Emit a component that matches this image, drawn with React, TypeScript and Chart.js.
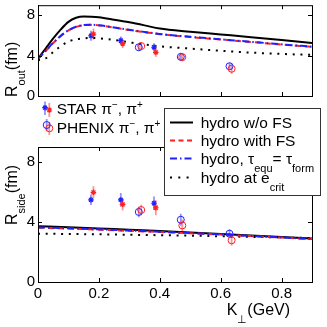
import React, { useEffect, useRef } from "react";
import { Chart, registerables } from "chart.js";
Chart.register(...registerables);

const FONT = "'Liberation Sans', Arial, Helvetica, sans-serif";

// ---------- tick labels ----------
const xTicks = [0, 0.2, 0.4, 0.6, 0.8];
const yTicks = [0, 4, 8];

// ---------- hydro curves: R_out ----------
const kOut = [0, 0.025, 0.05, 0.075, 0.1, 0.125, 0.15, 0.175, 0.2, 0.25, 0.3, 0.35, 0.4, 0.5, 0.6, 0.7, 0.8, 0.9];
const routNoFS = [3.7, 4.7, 5.7, 6.6, 7.35, 7.75, 7.88, 7.86, 7.8, 7.56, 7.3, 7.0, 6.68, 6.37, 6.1, 5.83, 5.55, 5.25];
const routWithFS = [3.7, 4.45, 5.25, 5.95, 6.5, 6.85, 7.02, 7.05, 7.0, 6.78, 6.54, 6.33, 6.13, 5.85, 5.6, 5.35, 5.1, 4.87];
const routTauEq = [3.7, 4.47, 5.27, 5.97, 6.52, 6.87, 7.04, 7.06, 7.01, 6.8, 6.56, 6.35, 6.15, 5.87, 5.62, 5.37, 5.12, 4.89];
const routCrit = [3.55, 3.72, 4.35, 4.95, 5.4, 5.62, 5.72, 5.75, 5.72, 5.55, 5.32, 5.1, 4.92, 4.7, 4.48, 4.3, 4.17, 4.07];

// ---------- hydro curves: R_side ----------
const kSide = [0, 0.1, 0.2, 0.3, 0.4, 0.5, 0.6, 0.7, 0.8, 0.9];
const rsideNoFS = [3.72, 3.65, 3.57, 3.48, 3.4, 3.3, 3.2, 3.1, 3.0, 2.9];
const rsideWithFS = [3.62, 3.56, 3.49, 3.41, 3.33, 3.25, 3.16, 3.06, 2.96, 2.86];
const rsideTauEq = [3.64, 3.58, 3.51, 3.43, 3.35, 3.26, 3.17, 3.07, 2.97, 2.87];
const rsideCrit = [3.22, 3.2, 3.18, 3.15, 3.12, 3.09, 3.05, 3.01, 2.97, 2.93];

// ---------- data: STAR ----------
const starMinusK = [0.174, 0.272, 0.381];
const starPlusK = [0.182, 0.278, 0.387];
const starMinusRout = [5.97, 5.5, 4.83];
const starMinusRoutErr = [0.5, 0.4, 0.4];
const starPlusRout = [6.13, 5.2, 4.33];
const starPlusRoutErr = [0.55, 0.45, 0.45];
const starMinusRside = [5.48, 5.48, 5.25];
const starMinusRsideErr = [0.35, 0.45, 0.45];
const starPlusRside = [5.98, 5.17, 4.95];
const starPlusRsideErr = [0.4, 0.4, 0.5];

// ---------- data: PHENIX ----------
const phenixMinusK = [0.331, 0.469, 0.629];
const phenixPlusK = [0.339, 0.474, 0.636];
const phenixMinusRout = [4.83, 3.88, 2.95];
const phenixMinusRoutErr = [0.35, 0.4, 0.35];
const phenixPlusRout = [4.95, 3.85, 2.7];
const phenixPlusRoutErr = [0.35, 0.4, 0.5];
const phenixMinusRside = [4.67, 4.15, 3.22];
const phenixMinusRsideErr = [0.35, 0.4, 0.3];
const phenixPlusRside = [4.8, 3.77, 2.78];
const phenixPlusRsideErr = [0.35, 0.4, 0.35];

const BLUE = "#2020ff";
const RED = "#ff2020";
const BLUE_ERR = "rgba(120,120,255,0.8)";
const RED_ERR = "rgba(255,120,120,0.8)";

type Part = [string, "n" | "sub" | "sup"];

function drawRich(ctx: CanvasRenderingContext2D, x: number, y: number, parts: Part[], size: number, small: number, subDy: number, supDy: number) {
  let cx = x;
  ctx.textBaseline = "alphabetic";
  ctx.textAlign = "left";
  for (const [t, k] of parts) {
    const fs = k === "n" ? size : small;
    ctx.font = `${fs}px ${FONT}`;
    const dy = k === "sub" ? subDy : k === "sup" ? -supDy : 0;
    ctx.fillText(t, cx, y + dy);
    cx += ctx.measureText(t).width;
  }
  return cx;
}

function drawStar(ctx: CanvasRenderingContext2D, x: number, y: number, r: number, color: string) {
  ctx.save();
  ctx.strokeStyle = color;
  ctx.lineWidth = 1.2;
  ctx.beginPath();
  const d = r * 0.7071;
  ctx.moveTo(x - r, y); ctx.lineTo(x + r, y);
  ctx.moveTo(x, y - r); ctx.lineTo(x, y + r);
  ctx.moveTo(x - d, y - d); ctx.lineTo(x + d, y + d);
  ctx.moveTo(x - d, y + d); ctx.lineTo(x + d, y - d);
  ctx.stroke();
  ctx.restore();
}

function drawCircle(ctx: CanvasRenderingContext2D, x: number, y: number, r: number, color: string) {
  ctx.save();
  ctx.strokeStyle = color;
  ctx.lineWidth = 1;
  ctx.beginPath();
  ctx.arc(x, y, r, 0, Math.PI * 2);
  ctx.stroke();
  ctx.restore();
}

function vbar(ctx: CanvasRenderingContext2D, x: number, y1: number, y2: number, color: string) {
  ctx.save();
  ctx.strokeStyle = color;
  ctx.lineWidth = 1.8;
  ctx.beginPath();
  ctx.moveTo(x, y1);
  ctx.lineTo(x, y2);
  ctx.stroke();
  ctx.restore();
}

const errorBars = {
  id: "errorBars",
  beforeDatasetsDraw(chart: any) {
    const { ctx, scales } = chart;
    chart.data.datasets.forEach((ds: any) => {
      if (!ds.errors) return;
      ds.data.forEach((p: any, i: number) => {
        const x = scales.x.getPixelForValue(p.x);
        const y1 = scales.y.getPixelForValue(p.y - ds.errors[i]);
        const y2 = scales.y.getPixelForValue(p.y + ds.errors[i]);
        vbar(ctx, x, y1, y2, ds.errColor);
      });
    });
  },
};

const frame = {
  id: "frame",
  afterDatasetsDraw(chart: any) {
    const { ctx, chartArea: a, scales } = chart;
    ctx.save();
    ctx.strokeStyle = "#000";
    ctx.lineWidth = 1;
    ctx.strokeRect(a.left + 0.5, a.top + 0.5, a.right - a.left, a.bottom - a.top);
    ctx.beginPath();
    const tl = 4;
    xTicks.forEach((v) => {
      const px = Math.round(scales.x.getPixelForValue(v)) + 0.5;
      ctx.moveTo(px, a.bottom); ctx.lineTo(px, a.bottom - tl);
      ctx.moveTo(px, a.top); ctx.lineTo(px, a.top + tl);
    });
    yTicks.forEach((v) => {
      const py = Math.round(scales.y.getPixelForValue(v)) + 0.5;
      ctx.moveTo(a.left, py); ctx.lineTo(a.left + tl, py);
      ctx.moveTo(a.right, py); ctx.lineTo(a.right - tl, py);
    });
    ctx.stroke();
    ctx.restore();
  },
};

const topDecor = {
  id: "topDecor",
  afterDraw(chart: any) {
    const ctx: CanvasRenderingContext2D = chart.ctx;
    ctx.save();
    ctx.fillStyle = "#000";
    ctx.save();
    ctx.translate(17, 97);
    ctx.rotate(-Math.PI / 2);
    drawRich(ctx, 0, 0, [["R", "n"], ["out", "sub"], ["(fm)", "n"]], 16, 11, 8, 0);
    ctx.restore();
    vbar(ctx, 45, 101.5, 115, BLUE_ERR);
    vbar(ctx, 49.3, 103, 117, RED_ERR);
    drawStar(ctx, 49.3, 110, 2.8, RED);
    drawStar(ctx, 45, 107.7, 2.8, BLUE);
    vbar(ctx, 46.7, 119, 131, BLUE_ERR);
    vbar(ctx, 49.3, 122, 135, RED_ERR);
    drawCircle(ctx, 49.3, 128.3, 3.5, RED);
    drawCircle(ctx, 46.7, 125, 3.5, BLUE);
    ctx.fillStyle = "#000";
    drawRich(ctx, 56.7, 114.3, [["STAR π", "n"], ["−", "sup"], [", π", "n"], ["+", "sup"]], 15.5, 10, 0, 6);
    drawRich(ctx, 56.7, 132.7, [["PHENIX π", "n"], ["−", "sup"], [", π", "n"], ["+", "sup"]], 15.5, 10, 0, 6);
    ctx.restore();
  },
};

const bottomDecor = {
  id: "bottomDecor",
  afterDraw(chart: any) {
    const ctx: CanvasRenderingContext2D = chart.ctx;
    ctx.save();
    ctx.fillStyle = "#000";
    ctx.save();
    ctx.translate(17, 225);
    ctx.rotate(-Math.PI / 2);
    drawRich(ctx, 0, 0, [["R", "n"], ["side", "sub"], ["(fm)", "n"]], 16, 11, 8, 0);
    ctx.restore();
    drawRich(ctx, 226.7, 315, [["K", "n"], ["⊥", "sub"], ["(GeV)", "n"]], 16, 11, 8, 0);
    ctx.fillStyle = "#fff";
    ctx.fillRect(164, 108, 157, 88);
    ctx.strokeStyle = "#333";
    ctx.lineWidth = 1;
    ctx.strokeRect(164.5, 108.5, 156, 87);
    const items: { y: number; color: string; dash: number[]; parts: Part[] }[] = [
      { y: 122.5, color: "#000", dash: [], parts: [["hydro w/o FS", "n"]] },
      { y: 140.5, color: RED, dash: [5, 3.5], parts: [["hydro with FS", "n"]] },
      { y: 158.5, color: BLUE, dash: [7, 3, 1.5, 3], parts: [["hydro, τ", "n"], ["equ", "sub"], ["= τ", "n"], ["form", "sub"]] },
      { y: 177.5, color: "#000", dash: [2, 6.3], parts: [["hydro at e", "n"], ["crit", "sub"]] },
    ];
    items.forEach((it) => {
      ctx.save();
      ctx.strokeStyle = it.color;
      ctx.lineWidth = 2;
      ctx.setLineDash(it.dash);
      ctx.beginPath();
      ctx.moveTo(170, it.y);
      ctx.lineTo(193, it.y);
      ctx.stroke();
      ctx.restore();
      ctx.fillStyle = "#000";
      drawRich(ctx, 200.7, it.y + 5.5, it.parts, 15.5, 11, 8, 0);
    });
    ctx.restore();
  },
};

const pts = (xs: number[], ys: number[]) => xs.map((x, i) => ({ x, y: ys[i] }));

function buildConfig(isTop: boolean): any {
  const K = isTop ? kOut : kSide;
  const noFS = isTop ? routNoFS : rsideNoFS;
  const withFS = isTop ? routWithFS : rsideWithFS;
  const tauEq = isTop ? routTauEq : rsideTauEq;
  const crit = isTop ? routCrit : rsideCrit;
  const sM = isTop ? starMinusRout : starMinusRside;
  const sMe = isTop ? starMinusRoutErr : starMinusRsideErr;
  const sP = isTop ? starPlusRout : starPlusRside;
  const sPe = isTop ? starPlusRoutErr : starPlusRsideErr;
  const pM = isTop ? phenixMinusRout : phenixMinusRside;
  const pMe = isTop ? phenixMinusRoutErr : phenixMinusRsideErr;
  const pP = isTop ? phenixPlusRout : phenixPlusRside;
  const pPe = isTop ? phenixPlusRoutErr : phenixPlusRsideErr;

  const marker = (data: any[], style: string, color: string, errors: number[], errColor: string) => ({
    data,
    showLine: false,
    pointStyle: style,
    pointRadius: style === "star" ? 2.8 : 3.5,
    pointBorderColor: color,
    pointBackgroundColor: "rgba(0,0,0,0)",
    pointBorderWidth: style === "star" ? 1.2 : 1,
    borderColor: color,
    errors,
    errColor,
  });
  const line = (data: any[], color: string, dash: number[]) => ({
    data,
    borderColor: color,
    borderWidth: 2,
    borderDash: dash,
    pointRadius: 0,
    cubicInterpolationMode: "monotone",
    fill: false,
  });

  const datasets = [
    marker(pts(starPlusK, sP), "star", RED, sPe, RED_ERR),
    marker(pts(starMinusK, sM), "star", BLUE, sMe, BLUE_ERR),
    marker(pts(phenixPlusK, pP), "circle", RED, pPe, RED_ERR),
    marker(pts(phenixMinusK, pM), "circle", BLUE, pMe, BLUE_ERR),
    line(pts(K, tauEq), BLUE, [7, 3, 1.5, 3]),
    line(pts(K, withFS), RED, [6, 4]),
    line(pts(K, noFS), "#000", []),
    line(pts(K, crit), "#000", [2, 5.7]),
  ];

  return {
    type: "line",
    data: { datasets },
    options: {
      responsive: false,
      animation: false,
      devicePixelRatio: 1,
      layout: { padding: isTop ? { top: 3, right: 15, bottom: 186, left: 0 } : { top: 147, right: 15, bottom: 0, left: 0 } },
      plugins: { legend: { display: false }, tooltip: { enabled: false } },
      scales: {
        x: {
          type: "linear",
          min: 0,
          max: 0.9,
          display: !isTop,
          afterBuildTicks: (s: any) => { s.ticks = xTicks.map((v) => ({ value: v })); },
          afterFit: (s: any) => { s.height = 45; s.paddingLeft = 0; s.paddingRight = 0; },
          grid: { display: false, drawTicks: false },
          border: { display: false },
          ticks: { color: "#000", font: { family: FONT, size: 15 }, padding: 3, maxRotation: 0, autoSkip: false, callback: (v: any) => String(v) },
        },
        y: {
          type: "linear",
          min: 0,
          max: 9,
          afterBuildTicks: (s: any) => { s.ticks = yTicks.map((v) => ({ value: v })); },
          afterFit: (s: any) => { s.width = 38; s.paddingTop = 0; s.paddingBottom = 0; },
          grid: { display: false, drawTicks: false },
          border: { display: false },
          ticks: { color: "#000", font: { family: FONT, size: 15 }, padding: 3 },
        },
      },
    },
    plugins: [errorBars, frame, isTop ? topDecor : bottomDecor],
  };
}

export default function App() {
  const topRef = useRef<HTMLCanvasElement>(null);
  const botRef = useRef<HTMLCanvasElement>(null);
  useEffect(() => {
    const c1 = new Chart(topRef.current as HTMLCanvasElement, buildConfig(true));
    const c2 = new Chart(botRef.current as HTMLCanvasElement, buildConfig(false));
    return () => { c1.destroy(); c2.destroy(); };
  }, []);
  const cs: React.CSSProperties = { position: "absolute", left: 0, top: 0, width: 327, height: 327 };
  return (
    <div style={{ position: "fixed", left: 0, top: 0, width: 327, height: 327, background: "#fff" }}>
      <canvas ref={topRef} width={327} height={327} style={cs} />
      <canvas ref={botRef} width={327} height={327} style={cs} />
    </div>
  );
}
